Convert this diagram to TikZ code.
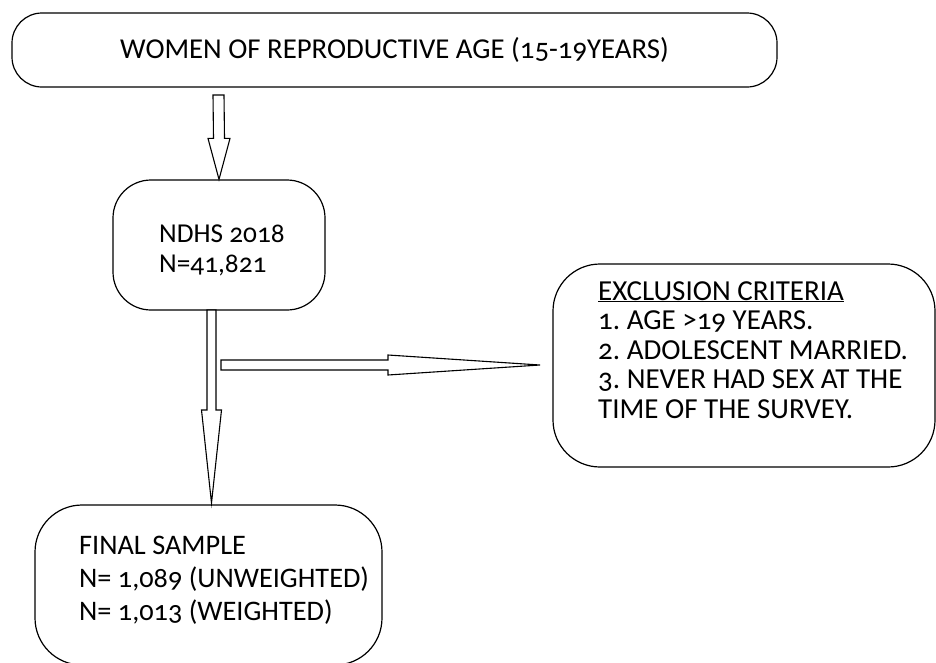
\documentclass[tikz,border=0pt]{standalone}
\usepackage{fontspec}
\setmainfont{Carlito}[Numbers=OldStyle]
\usetikzlibrary{calc}
\frenchspacing

\tikzset{
  box/.style={draw, line width=1.2pt, rounded corners=#1, inner sep=0pt},
  box/.default=40pt,
  boxtext/.style={anchor=base west, align=left, inner sep=0pt},
  blockarrow/.style={draw, line width=1.1pt, fill=white, line join=miter},
}

\begin{document}
\begin{tikzpicture}[x=1pt, y=-1pt]
    % Fix the page size
    \useasboundingbox (0,0) rectangle (936,662);

    % Define the boxes
    \node[box=30pt, minimum width=765pt, minimum height=74pt, font=\fontsize{28.8pt}{32pt}\selectfont] (women) at (394.5,50) {WOMEN OF REPRODUCTIVE AGE (15-19YEARS)};
    \node[box=38pt, minimum width=212pt, minimum height=130pt] (ndhs) at (219,245) {};
    \node[box=47pt, minimum width=382pt, minimum height=203pt] (excl) at (744,365.5) {};
    \node[box=47pt, minimum width=347pt, minimum height=160pt] (final) at (208.5,585) {};

    % Place the texts inside the boxes (base = last line)
    \node[boxtext, font=\fontsize{27.3pt}{30pt}\selectfont] (ndhstext) at (159,272) {NDHS 2018\\N=41,821};
    \node[boxtext, font=\fontsize{29pt}{29.5pt}\selectfont] (excltext) at (598,418) {\underline{EXCLUSION CRITERIA}\\1. AGE >19 YEARS.\\2. ADOLESCENT MARRIED.\\3. NEVER HAD SEX AT THE\\TIME OF THE SURVEY.};
    \node[boxtext, font=\fontsize{28.3pt}{33pt}\selectfont] (finaltext) at (79,620) {FINAL SAMPLE\\N= 1,089 (UNWEIGHTED)\\N= 1,013 (WEIGHTED)};

    % Define the ends of the arrows
    \coordinate (a1) at (218.5,95);
    \coordinate (a2) at (211.5,310);
    \coordinate (a2tip) at (211.5,503);
    \coordinate (a3) at (221,365);
    \coordinate (a3tip) at (540,365);

    % Draw the arrows
    \draw[blockarrow] ($(a1)+(-5.5,0)$) -- ($(a1)+(5.5,0)$) -- ($(ndhs.north)+(5.5,-41)$) -- ($(ndhs.north)+(11,-41)$) -- (ndhs.north) -- ($(ndhs.north)+(-11,-41)$) -- ($(ndhs.north)+(-5.5,-41)$) -- cycle;
    \draw[blockarrow] ($(a2)+(-4.5,0)$) -- ($(a2)+(4.5,0)$) -- ($(a2tip)+(4.5,-93)$) -- ($(a2tip)+(10,-93)$) -- (a2tip) -- ($(a2tip)+(-10,-93)$) -- ($(a2tip)+(-4.5,-93)$) -- cycle;
    \draw[blockarrow] ($(a3)+(0,-5)$) -- ($(a3tip)+(-152,-5)$) -- ($(a3tip)+(-152,-10)$) -- (a3tip) -- ($(a3tip)+(-152,10)$) -- ($(a3tip)+(-152,5)$) -- ($(a3)+(0,5)$) -- cycle;

\end{tikzpicture}
\end{document}
